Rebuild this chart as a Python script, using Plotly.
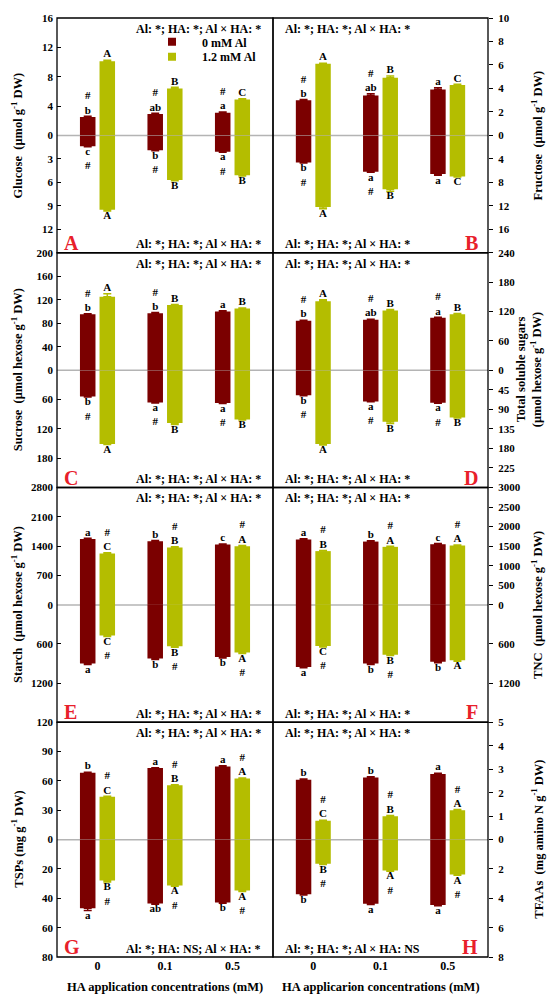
import plotly.graph_objects as go

# ── Categories / series ───────────────────────────────────────────────────────
HA = ["0", "0.1", "0.5"]
SERIES = ["0 mM Al", "1.2 mM Al"]
DARK = "#7b0000"
LIME = "#b4bd00"

# each panel: upper half (up) and lower half (dn), 0 mM Al (c) and 1.2 mM Al (al)
# A  Glucose
glu_up_c, glu_up_al = [2.5, 2.9, 3.1], [10.1, 6.4, 4.9]
glu_dn_c, glu_dn_al = [1.4, 1.9, 2.1], [9.5, 5.7, 5.1]
glu_up_c_se, glu_up_al_se = [0.1, 0.1, 0.1], [0.15, 0.15, 0.1]
glu_dn_c_se, glu_dn_al_se = [0.05, 0.05, 0.05], [0.15, 0.1, 0.1]
glu_up_c_sig, glu_up_al_sig = ["#<br>b", "#<br>ab", "#<br>a"], ["A", "B", "C"]
glu_dn_c_sig, glu_dn_al_sig = ["c<br>#", "b<br>#", "a<br>#"], ["A", "B", "B"]

# B  Fructose
fru_up_c, fru_up_al = [3.0, 3.4, 3.9], [6.1, 4.9, 4.3]
fru_dn_c, fru_dn_al = [4.6, 6.2, 6.6], [12.2, 9.2, 7.0]
fru_up_c_se, fru_up_al_se = [0.05, 0.15, 0.15], [0.05, 0.15, 0.05]
fru_dn_c_se, fru_dn_al_se = [0.1, 0.1, 0.2], [0.3, 0.3, 0.1]
fru_up_c_sig, fru_up_al_sig = ["#<br>b", "#<br>ab", "a"], ["A", "B", "C"]
fru_dn_c_sig, fru_dn_al_sig = ["b<br>#", "a<br>#", "a"], ["A", "B", "C"]

# C  Sucrose
suc_up_c, suc_up_al = [95, 97, 100], [125, 111, 105]
suc_dn_c, suc_dn_al = [54, 66, 67], [151, 108, 101]
suc_up_c_se, suc_up_al_se = [1, 1, 1], [5, 1, 1]
suc_dn_c_se, suc_dn_al_se = [1, 1, 1], [1, 3, 1]
suc_up_c_sig, suc_up_al_sig = ["#<br>b", "#<br>b", "a"], ["A", "B", "B"]
suc_dn_c_sig, suc_dn_al_sig = ["b<br>#", "a<br>#", "a<br>#"], ["A", "B", "B"]

# D  Total soluble sugars
tss_up_c, tss_up_al = [101, 103, 107], [141, 122, 114]
tss_dn_c, tss_dn_al = [58, 72, 75], [170, 119, 109]
tss_up_c_se, tss_up_al_se = [1, 1, 1], [3, 2, 2]
tss_dn_c_se, tss_dn_al_se = [1, 1, 1], [2, 4, 1]
tss_up_c_sig, tss_up_al_sig = ["#<br>b", "#<br>ab", "#<br>a"], ["A", "B", "B"]
tss_dn_c_sig, tss_dn_al_sig = ["b<br>#", "a<br>#", "a<br>#"], ["A", "B", "B"]

# E  Starch
sta_up_c, sta_up_al = [1573, 1518, 1440], [1227, 1369, 1400]
sta_dn_c, sta_dn_al = [900, 824, 798], [468, 635, 732]
sta_up_c_se, sta_up_al_se = [15, 15, 15], [15, 15, 15]
sta_dn_c_se, sta_dn_al_se = [15, 15, 15], [15, 15, 15]
sta_up_c_sig, sta_up_al_sig = ["a", "b", "c"], ["#<br>C", "#<br>B", "#<br>A"]
sta_dn_c_sig, sta_dn_al_sig = ["a", "b", "b"], ["C<br>#", "B<br>#", "A<br>#"]

# F  TNC
tnc_up_c, tnc_up_al = [1669, 1618, 1550], [1374, 1483, 1517]
tnc_dn_c, tnc_dn_al = [951, 900, 874], [630, 763, 849]
tnc_up_c_se, tnc_up_al_se = [20, 20, 20], [15, 15, 15]
tnc_dn_c_se, tnc_dn_al_se = [15, 15, 15], [15, 15, 15]
tnc_up_c_sig, tnc_up_al_sig = ["a", "b", "c"], ["#<br>B", "#<br>A", "#<br>A"]
tnc_dn_c_sig, tnc_dn_al_sig = ["a", "b", "b"], ["C<br>#", "B<br>#", "A"]

# G  TSPs
tsp_up_c, tsp_up_al = [68.4, 73.1, 74.8], [43.8, 55.6, 62.4]
tsp_dn_c, tsp_dn_al = [46.8, 43.5, 42.8], [27.9, 31.2, 34.6]
tsp_up_c_se, tsp_up_al_se = [0.5, 0.5, 0.6], [0.5, 0.5, 0.5]
tsp_dn_c_se, tsp_dn_al_se = [1.5, 0.5, 0.5], [1.0, 0.5, 0.8]
tsp_up_c_sig, tsp_up_al_sig = ["b", "a", "a"], ["#<br>C", "#<br>B", "#<br>A"]
tsp_dn_c_sig, tsp_dn_al_sig = ["a", "ab", "b"], ["B<br>#", "A<br>#", "A<br>#"]

# H  TFAAs
tfa_up_c, tfa_up_al = [2.55, 2.65, 2.8], [0.8, 1.0, 1.25]
tfa_dn_c, tfa_dn_al = [3.73, 4.37, 4.46], [1.65, 2.1, 2.38]
tfa_up_c_se, tfa_up_al_se = [0.03, 0.03, 0.03], [0.03, 0.03, 0.03]
tfa_dn_c_se, tfa_dn_al_se = [0.05, 0.05, 0.05], [0.05, 0.05, 0.05]
tfa_up_c_sig, tfa_up_al_sig = ["b", "b", "a"], ["#<br>C", "#<br>B", "#<br>A"]
tfa_dn_c_sig, tfa_dn_al_sig = ["b", "a", "a"], ["B<br>#", "A<br>#", "A<br>#"]

# ── Axis ticks (upper half / lower half) ─────────────────────────────────────
glu_up_ticks, glu_dn_ticks = [0, 4, 8, 12, 16], [3, 6, 9, 12]
fru_up_ticks, fru_dn_ticks = [0, 2, 4, 6, 8, 10], [4, 8, 12, 16]
suc_up_ticks, suc_dn_ticks = [0, 40, 80, 120, 160, 200], [60, 120, 180]
tss_up_ticks, tss_dn_ticks = [0, 60, 120, 180, 240], [45, 90, 135, 180, 225]
sta_up_ticks, sta_dn_ticks = [0, 700, 1400, 2100, 2800], [600, 1200]
tnc_up_ticks, tnc_dn_ticks = [0, 500, 1000, 1500, 2000, 2500, 3000], [600, 1200]
tsp_up_ticks, tsp_dn_ticks = [0, 30, 60, 90, 120], [20, 40, 60, 80]
tfa_up_ticks, tfa_dn_ticks = [0, 1, 2, 3, 4, 5], [2, 4, 6, 8]

AXMAX = {"glu": (16, 15), "fru": (10, 20), "suc": (200, 240), "tss": (240, 270),
         "sta": (2800, 1800), "tnc": (3000, 1800), "tsp": (120, 80), "tfa": (5, 8)}

TITLES = {
    "glu": "Glucose  (μmol g<sup>-1</sup> DW)",
    "fru": "Fructose  (μmol g<sup>-1</sup> DW)",
    "suc": "Sucrose  (μmol hexose g<sup>-1</sup> DW)",
    "tss": "Total soluble sugars<br>(μmol hexose g<sup>-1</sup> DW)",
    "sta": "Starch  (μmol hexose g<sup>-1</sup> DW)",
    "tnc": "TNC  (μmol hexose g<sup>-1</sup> DW)",
    "tsp": "TSPs (mg g<sup>-1</sup> DW)",
    "tfa": "TFAAs  (mg amino N g<sup>-1</sup> DW)",
}
ALL = "Al: *; HA: *; Al × HA: *"
STATS = {"glu": (ALL, ALL), "fru": (ALL, ALL), "suc": (ALL, ALL), "tss": (ALL, ALL),
         "sta": (ALL, ALL), "tnc": (ALL, ALL),
         "tsp": (ALL, "Al: *; HA: NS; Al × HA: *"),
         "tfa": (ALL, "Al: *; HA: *; Al × HA: NS")}
LETTERS = list("ABCDEFGH")
ORDER = ["glu", "fru", "suc", "tss", "sta", "tnc", "tsp", "tfa"]
XTITLES = ["HA application concentrations (mM)", "HA applicarion concentrations (mM)"]

G = globals()

# ── Figure geometry ───────────────────────────────────────────────────────────
W, H = 550, 1001
ML, MR, MT, MB = 57, 62, 12, 44
PW, PH = W - ML - MR, H - MT - MB
COLW = 216 / PW
FONT = "Liberation Serif"
BW, OFF = 0.23, 0.145

fig = go.Figure()
shapes, annotations, axes = [], [], {}

for p, key in enumerate(ORDER):
    r, c = divmod(p, 2)
    x0, x1 = (0, COLW) if c == 0 else (COLW, 1)
    ytop, ybot = 1 - r / 4, 1 - (r + 1) / 4
    ymid = (ytop + ybot) / 2
    for h, half in enumerate(("up", "dn")):
        n = p * 2 + h + 1
        xa, ya = ("x", "y") if n == 1 else (f"x{n}", f"y{n}")
        for s, (ser, col) in enumerate((("c", DARK), ("al", LIME))):
            vals = G[f"{key}_{half}_{ser}"]
            se = G[f"{key}_{half}_{ser}_se"]
            sig = G[f"{key}_{half}_{ser}_sig"]
            fig.add_trace(go.Bar(
                x=[0, 1, 2], y=vals, width=BW, offset=-BW - 0.03 if s == 0 else 0.03,
                marker=dict(color=col, line_width=0),
                error_y=dict(type="data", array=se, arrayminus=[0] * 3, symmetric=False,
                             color=col, thickness=1.5, width=4),
                xaxis=xa, yaxis=ya, showlegend=False, name=SERIES[s],
            ))
            fig.add_trace(go.Scatter(
                x=[i + (OFF if s else -OFF) for i in range(3)],
                y=[v + e for v, e in zip(vals, se)],
                text=sig, mode="text", cliponaxis=False,
                textposition="top center" if half == "up" else "bottom center",
                textfont=dict(family=FONT, size=11, color="black", weight="bold"),
                xaxis=xa, yaxis=ya, showlegend=False, hoverinfo="skip",
            ))
        top_max, dn_max = AXMAX[key]
        ticks = list(G[f"{key}_{half}_ticks"])
        last_row = r == 3
        axes[f"xaxis{n}"] = dict(
            domain=[x0, x1], range=[-0.6, 2.6], anchor=ya, showgrid=False, zeroline=False,
            showline=False, ticks="", fixedrange=True,
            showticklabels=last_row and half == "dn",
            tickvals=[0, 1, 2], ticktext=HA,
            tickfont=dict(family=FONT, size=12, weight="bold"),
        )
        axes[f"yaxis{n}"] = dict(
            domain=[ymid, ytop] if half == "up" else [ybot, ymid],
            range=[0, top_max] if half == "up" else [dn_max, 0],
            anchor=xa, side="left" if c == 0 else "right",
            tickvals=ticks, ticktext=[str(t) for t in ticks],
            ticks="inside" if c == 0 else "outside", ticklen=4, tickwidth=1.2,
            tickcolor="black", ticklabelstandoff=3,
            showgrid=False, zeroline=False, showline=False, fixedrange=True,
            tickfont=dict(family=FONT, size=11, weight="bold"),
        )

    # panel frame and zero line
    shapes.append(dict(type="rect", xref="paper", yref="paper", x0=x0, x1=x1,
                       y0=ybot, y1=ytop, line=dict(color="black", width=1.3)))
    shapes.append(dict(type="line", xref="paper", yref="paper", x0=x0, x1=x1,
                       y0=ymid, y1=ymid, line=dict(color="#b4b4b4", width=1.5),
                       layer="below"))

    st_top, st_bot = STATS[key]
    sfont = dict(family=FONT, size=12, color="black", weight="bold")
    if c == 0:
        sx, sanchor = x1 - 10 / PW, "right"
        lx, lanchor = x0 + 5 / PW, "left"
        tx = -40 / PW
    else:
        sx, sanchor = x0 + 10 / PW, "left"
        lx, lanchor = x1 - 8 / PW, "right"
        tx = (529 - ML) / PW if key == "tss" else (537 - ML) / PW
    annotations += [
        dict(text=st_top, x=sx, y=ytop - 11 / PH, xanchor=sanchor, yanchor="middle",
             font=sfont),
        dict(text=st_bot, x=sx, y=ybot + 8.5 / PH, xanchor=sanchor, yanchor="middle",
             font=sfont),
        dict(text=LETTERS[p], x=lx, y=ybot + 10 / PH, xanchor=lanchor, yanchor="middle",
             font=dict(family=FONT, size=20, color="#e8202a", weight="bold")),
        dict(text=TITLES[key], x=tx, y=ymid, xanchor="center", yanchor="middle",
             textangle=-90, font=dict(family=FONT, size=12.5, color="black", weight="bold")),
    ]
    if r == 3:
        annotations.append(dict(text=XTITLES[c], x=(x0 + x1) / 2, y=-30 / PH,
                                xanchor="center", yanchor="middle",
                                font=dict(family=FONT, size=12.5, color="black", weight="bold")))

for ann in annotations:
    ann.update(xref="paper", yref="paper", showarrow=False)

# legend entries (panel A), one small legend per series so each row sits exactly
legends = {}
for i, (name, col, yc) in enumerate(zip(SERIES, (DARK, LIME), (36, 51))):
    lname = "legend" if i == 0 else f"legend{i + 1}"
    fig.add_trace(go.Scatter(x=[None], y=[None], mode="markers", name=name,
                             marker=dict(symbol="square", size=8, color=col),
                             xaxis="x", yaxis="y", legend=lname))
    legends[lname] = dict(x=(142 - ML) / PW, y=1 - (yc - MT) / PH, xanchor="left",
                          yanchor="middle", bgcolor="rgba(0,0,0,0)", itemwidth=50,
                          font=dict(family=FONT, size=12, color="black", weight="bold"))

fig.update_layout(
    width=W, height=H,
    margin=dict(l=ML, r=MR, t=MT, b=MB),
    paper_bgcolor="white", plot_bgcolor="rgba(0,0,0,0)",
    font=dict(family=FONT, size=12, color="black", weight="bold"),
    shapes=shapes, annotations=annotations,
    showlegend=True,
    **legends,
    **axes,
)

# the page's default body margin would shift the 550x1001 figure
fig.write_html("out.html", config={"displayModeBar": False},
               post_script="document.body.style.margin='0';")
